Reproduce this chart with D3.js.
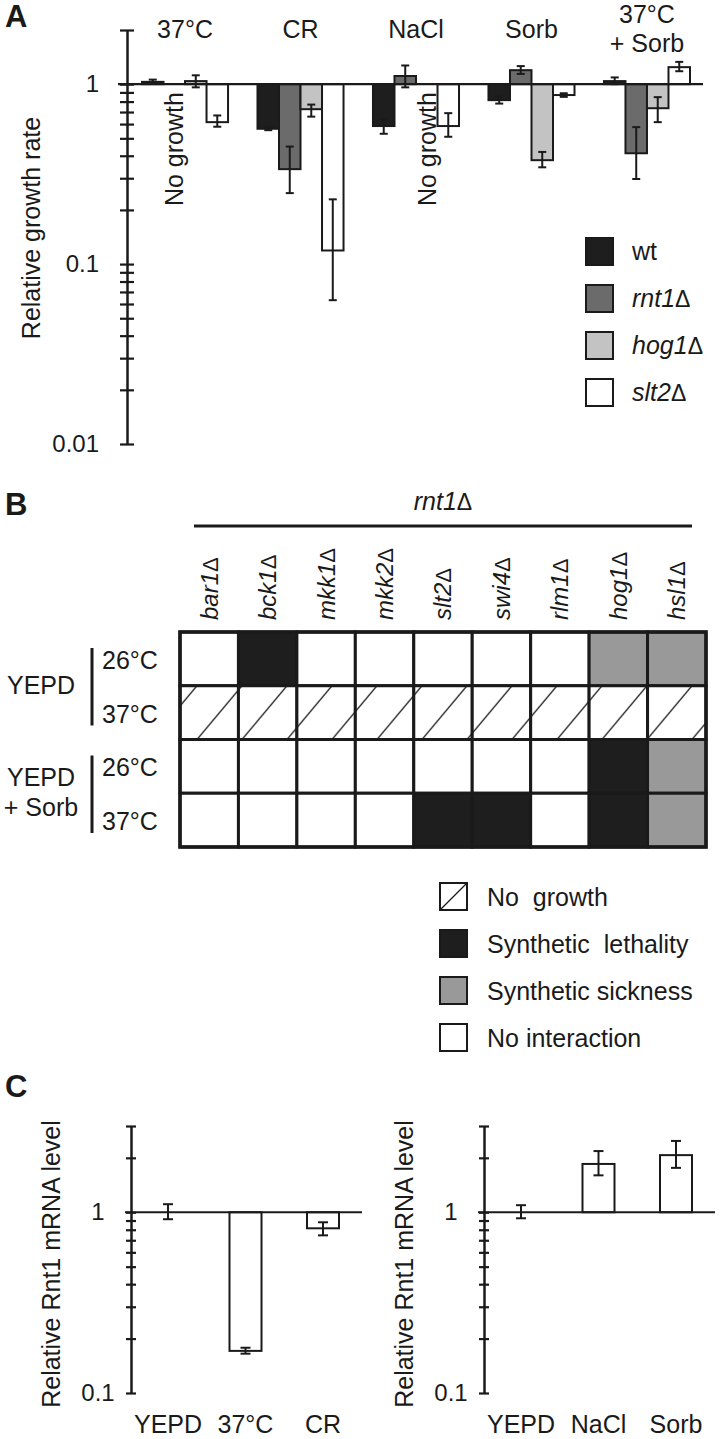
<!DOCTYPE html>
<html><head><meta charset="utf-8">
<script src="https://cdn.jsdelivr.net/npm/d3@7"></script>
<style>
body{margin:0;background:#fff}
svg text{font-family:"Liberation Sans",Arial,sans-serif;fill:#1a1a1a}
</style></head><body>
<svg id="fig" width="720" height="1439"></svg>
<script>
// ---------- Panel A data ----------
const groupsA = ["37°C","CR","NaCl","Sorb","37°C + Sorb"];
const groupLabelsA = [["37°C"],["CR"],["NaCl"],["Sorb"],["37°C","+ Sorb"]];
const seriesA = ["wt","rnt1Δ","hog1Δ","slt2Δ"];
const wtVal   = [1.03, 0.565, 0.585, 0.815, 1.04];
const wtLo    = [1.01, 0.555, 0.53, 0.78, 1.00];
const wtHi    = [1.06, 0.575, 0.64, 0.85, 1.09];
const rnt1Val = [null, 0.337, 1.11, 1.196, 0.413];
const rnt1Lo  = [null, 0.248, 0.96, 1.14, 0.297];
const rnt1Hi  = [null, 0.45, 1.27, 1.26, 0.577];
const hog1Val = [1.04, 0.726, null, 0.378, 0.735];
const hog1Lo  = [0.96, 0.66, null, 0.345, 0.615];
const hog1Hi  = [1.12, 0.77, null, 0.42, 0.847];
const slt2Val = [0.615, 0.119, 0.585, 0.87, 1.243];
const slt2Lo  = [0.58, 0.063, 0.51, 0.85, 1.18];
const slt2Hi  = [0.67, 0.229, 0.69, 0.89, 1.33];
const yTicksA = [0.01, 2];

// ---------- Panel B data ----------
const mutantsB = ["bar1Δ","bck1Δ","mkk1Δ","mkk2Δ","slt2Δ","swi4Δ","rlm1Δ","hog1Δ","hsl1Δ"];
const mediaB = [["YEPD"],["YEPD","+ Sorb"]];
const tempsB = ["26°C","37°C","26°C","37°C"];
const row1B = ["N","L","N","N","N","N","N","S","S"];
const row2B = ["G","G","G","G","G","G","G","G","G"];
const row3B = ["N","N","N","N","N","N","N","L","S"];
const row4B = ["N","N","N","N","L","L","N","L","S"];
const legendCodesB = ["G","L","S","N"];
const legendLabelsB = ["No  growth","Synthetic  lethality","Synthetic sickness","No interaction"];

// ---------- Panel C data ----------
const catsC1 = ["YEPD","37°C","CR"];
const valC1 = [1.0, 0.171, 0.815];
const loC1  = [0.915, 0.165, 0.745];
const hiC1  = [1.108, 0.178, 0.88];
const catsC2 = ["YEPD","NaCl","Sorb"];
const valC2 = [1.0, 1.85, 2.07];
const loC2  = [0.926, 1.6, 1.76];
const hiC2  = [1.094, 2.18, 2.48];
const yDomainC = [0.1, 3];

const INK = "#1a1a1a";
const svg = d3.select("#fig");
const defs = svg.append("defs");

function mutantText(sel, label, size){
  if(label.endsWith("Δ")){
    sel.append("tspan").attr("font-style","italic").text(label.slice(0,-1));
    sel.append("tspan").attr("font-weight","normal").attr("font-size",size*0.92).text("Δ");
  } else sel.text(label);
}
function isMajor(d){ const l=Math.log10(d); return Math.abs(l-Math.round(l))<1e-6; }
function fmt(d){ return String(+d.toPrecision(1)); }

// ================= PANEL A =================
const gA = svg.append("g");
gA.append("text").attr("x",5).attr("y",27).attr("font-size",31).attr("font-weight","bold").text("A");

const yA = d3.scaleLog().domain(yTicksA).range([444,30]);
const xA = d3.scaleBand().domain(groupsA).range([142,690]).paddingInner(0.255);
const xAi = d3.scaleBand().domain(seriesA).range([0,xA.bandwidth()]);
const colorA = d3.scaleOrdinal().domain(seriesA).range(["#1e1e1e","#6b6b6b","#c3c3c3","#ffffff"]);

const seriesData = [[wtVal,wtLo,wtHi],[rnt1Val,rnt1Lo,rnt1Hi],[hog1Val,hog1Lo,hog1Hi],[slt2Val,slt2Lo,slt2Hi]];
const barsA = [];
seriesA.forEach((s,si)=>groupsA.forEach((g,gi)=>{
  barsA.push({g, s, v:seriesData[si][0][gi], lo:seriesData[si][1][gi], hi:seriesData[si][2][gi]});
}));

const y1 = yA(1);
gA.selectAll("rect.bar").data(barsA.filter(d=>d.v!=null)).join("rect")
  .attr("x",d=>xA(d.g)+xAi(d.s))
  .attr("y",d=>Math.min(yA(d.v),y1))
  .attr("width",xAi.bandwidth())
  .attr("height",d=>Math.abs(yA(d.v)-y1))
  .attr("fill",d=>colorA(d.s)).attr("stroke",INK).attr("stroke-width",2);

// axis
const axA = d3.axisLeft(yA).tickValues(yA.ticks()).tickSize(7).tickSizeOuter(0).tickPadding(21)
  .tickFormat(d=>isMajor(d)&&d<=1?fmt(d):"");
const axGA = gA.append("g").attr("transform","translate(127,0)").call(axA);
axGA.select(".domain").attr("stroke",INK).attr("stroke-width",2.5);
axGA.selectAll(".tick line").attr("x1",7).attr("x2",-7).attr("stroke",INK).attr("stroke-width",2.2);
axGA.selectAll(".tick text").attr("font-size",24).attr("font-family",null).attr("fill","#222");

// baseline
gA.append("line").attr("x1",118).attr("x2",703).attr("y1",y1).attr("y2",y1).attr("stroke",INK).attr("stroke-width",2.2);

// error bars
const ebA = gA.selectAll("g.eb").data(barsA.filter(d=>d.v!=null)).join("g")
  .attr("transform",d=>`translate(${xA(d.g)+xAi(d.s)+xAi.bandwidth()/2},0)`);
ebA.append("line").attr("y1",d=>yA(d.lo)).attr("y2",d=>yA(d.hi)).attr("stroke",INK).attr("stroke-width",2);
ebA.append("line").attr("x1",-4).attr("x2",4).attr("y1",d=>yA(d.lo)).attr("y2",d=>yA(d.lo)).attr("stroke",INK).attr("stroke-width",2);
ebA.append("line").attr("x1",-4).attr("x2",4).attr("y1",d=>yA(d.hi)).attr("y2",d=>yA(d.hi)).attr("stroke",INK).attr("stroke-width",2);

// No growth labels
gA.selectAll("text.ng").data(barsA.filter(d=>d.v==null)).join("text")
  .attr("transform",d=>`translate(${xA(d.g)+xAi(d.s)+xAi.bandwidth()/2},${y1+8}) rotate(-90)`)
  .attr("text-anchor","end").attr("dy","0.35em").attr("font-size",25).text("No growth");

// group labels
groupsA.forEach((g,gi)=>{
  const lines = groupLabelsA[gi];
  lines.forEach((t,i)=>{
    gA.append("text").attr("x",xA(g)+xA.bandwidth()/2)
      .attr("y",37.5+(i-(lines.length-1)/2)*29)
      .attr("text-anchor","middle").attr("font-size",25).text(t);
  });
});

// y label
gA.append("text").attr("transform","translate(31,228) rotate(-90)").attr("text-anchor","middle")
  .attr("dy","0.35em").attr("font-size",25).text("Relative growth rate");

// legend
const legA = gA.selectAll("g.leg").data(seriesA).join("g").attr("transform",(d,i)=>`translate(586,${238+i*47})`);
legA.append("rect").attr("width",27).attr("height",27).attr("fill",d=>colorA(d)).attr("stroke",INK).attr("stroke-width",2);
legA.append("text").attr("x",46).attr("y",22).attr("font-size",25).each(function(d){ mutantText(d3.select(this),d,25); });

// ================= PANEL B =================
const gB = svg.append("g");
gB.append("text").attr("x",5).attr("y",515).attr("font-size",31).attr("font-weight","bold").text("B");

const rowsB = [row1B,row2B,row3B,row4B];
const xB = d3.scaleBand().domain(mutantsB).range([180,706]);
const yB = d3.scaleBand().domain(d3.range(rowsB.length)).range([632,847]);
const fillB = {N:"#ffffff", L:"#1e1e1e", S:"#999999", G:"url(#hatch)"};

const pat = defs.append("pattern").attr("id","hatch").attr("patternUnits","userSpaceOnUse")
  .attr("x",197).attr("y",yB(1)).attr("width",45).attr("height",yB.bandwidth());
pat.append("rect").attr("width",45).attr("height",yB.bandwidth()).attr("fill","#fff");
[-45,0,45].forEach(o=>pat.append("line").attr("x1",o).attr("y1",yB.bandwidth()).attr("x2",o+45).attr("y2",0)
  .attr("stroke",INK).attr("stroke-width",1.3));

const cells = [];
rowsB.forEach((r,ri)=>r.forEach((c,ci)=>cells.push({r:ri, m:mutantsB[ci], c})));
gB.selectAll("rect.cell").data(cells).join("rect")
  .attr("x",d=>xB(d.m)).attr("y",d=>yB(d.r)).attr("width",xB.bandwidth()).attr("height",yB.bandwidth())
  .attr("fill",d=>fillB[d.c]).attr("stroke",INK).attr("stroke-width",3);
gB.append("rect").attr("x",180).attr("y",632).attr("width",526).attr("height",215)
  .attr("fill","none").attr("stroke",INK).attr("stroke-width",3.5);

// column labels
gB.selectAll("text.col").data(mutantsB).join("text")
  .attr("transform",d=>`translate(${xB(d)+xB.bandwidth()/2},620) rotate(-90)`)
  .attr("dy","0.35em").attr("font-size",24).each(function(d){ mutantText(d3.select(this),d,24); });

// header
const hdr = gB.append("text").attr("x",(xB.range()[0]+xB.range()[1])/2).attr("y",510).attr("text-anchor","middle").attr("font-size",25);
mutantText(hdr,"rnt1Δ",25);
gB.append("line").attr("x1",194).attr("x2",692).attr("y1",526).attr("y2",526).attr("stroke",INK).attr("stroke-width",3);

// row labels
tempsB.forEach((t,i)=>{
  gB.append("text").attr("x",102).attr("y",yB(i)+yB.bandwidth()/2+10).attr("font-size",25).text(t);
});
mediaB.forEach((lines,mi)=>{
  const top = yB(mi*2), bot = yB(mi*2+1)+yB.bandwidth();
  const mid = yB(mi*2+1);
  gB.append("line").attr("x1",92).attr("x2",92).attr("y1",top+16).attr("y2",bot-14).attr("stroke",INK).attr("stroke-width",3);
  lines.forEach((t,i)=>{
    gB.append("text").attr("x",41).attr("y",mid+8+(i-(lines.length-1)/2)*30).attr("text-anchor","middle").attr("font-size",25).text(t);
  });
});

// legend B
const legB = gB.selectAll("g.legb").data(legendCodesB).join("g").attr("transform",(d,i)=>`translate(440,${883+i*47})`);
legB.append("rect").attr("width",27).attr("height",27).attr("fill",d=>d==="G"?"#fff":fillB[d]).attr("stroke",INK).attr("stroke-width",2);
legB.filter(d=>d==="G").append("line").attr("x1",0).attr("y1",27).attr("x2",27).attr("y2",0).attr("stroke",INK).attr("stroke-width",1.3);
legB.append("text").attr("x",47).attr("y",23).attr("font-size",25).style("white-space","pre").text((d,i)=>legendLabelsB[i]);

// ================= PANEL C =================
const gC = svg.append("g");
gC.append("text").attr("x",5).attr("y",1097).attr("font-size",31).attr("font-weight","bold").text("C");

function panelC(axisX, cats, vals, lo, hi){
  const g = gC.append("g");
  const y = d3.scaleLog().domain(yDomainC).range([1393,1126]);
  const x = d3.scaleBand().domain(cats).range([axisX+21, axisX+208]).paddingInner(0.587);
  const yb = y(1);
  const data = cats.map((c,i)=>({c, v:vals[i], lo:lo[i], hi:hi[i]}));
  g.selectAll("rect").data(data).join("rect")
    .attr("x",d=>x(d.c)).attr("y",d=>Math.min(y(d.v),yb)).attr("width",x.bandwidth())
    .attr("height",d=>Math.abs(y(d.v)-yb)).attr("fill","#fff").attr("stroke",INK).attr("stroke-width",2);
  const ax = d3.axisLeft(y).tickValues(y.ticks()).tickSize(5).tickSizeOuter(0).tickFormat(d=>isMajor(d)?fmt(d):"");
  const axG = g.append("g").attr("transform",`translate(${axisX},0)`).call(ax);
  axG.select(".domain").attr("stroke",INK).attr("stroke-width",2.5);
  axG.selectAll(".tick line").attr("x1",5).attr("x2",-5).attr("stroke",INK).attr("stroke-width",2.2);
  axG.selectAll(".tick text").attr("font-size",24).attr("font-family",null).attr("fill","#222")
    .attr("text-anchor","middle").attr("x",-33);
  g.append("line").attr("x1",axisX-6).attr("x2",axisX+231).attr("y1",yb).attr("y2",yb).attr("stroke",INK).attr("stroke-width",2.2);
  const eb = g.selectAll("g.eb").data(data).join("g").attr("transform",d=>`translate(${x(d.c)+x.bandwidth()/2},0)`);
  eb.append("line").attr("y1",d=>y(d.lo)).attr("y2",d=>y(d.hi)).attr("stroke",INK).attr("stroke-width",2);
  eb.append("line").attr("x1",-5).attr("x2",5).attr("y1",d=>y(d.lo)).attr("y2",d=>y(d.lo)).attr("stroke",INK).attr("stroke-width",2);
  eb.append("line").attr("x1",-5).attr("x2",5).attr("y1",d=>y(d.hi)).attr("y2",d=>y(d.hi)).attr("stroke",INK).attr("stroke-width",2);
  g.selectAll("text.xl").data(cats).join("text").attr("x",d=>x(d)+x.bandwidth()/2).attr("y",1433)
    .attr("text-anchor","middle").attr("font-size",25).text(d=>d);
  g.append("text").attr("transform",`translate(${axisX-80},1264) rotate(-90)`).attr("text-anchor","middle")
    .attr("dy","0.35em").attr("font-size",25).text("Relative Rnt1 mRNA level");
}
panelC(131, catsC1, valC1, loC1, hiC1);
panelC(484, catsC2, valC2, loC2, hiC2);
</script>
</body></html>
